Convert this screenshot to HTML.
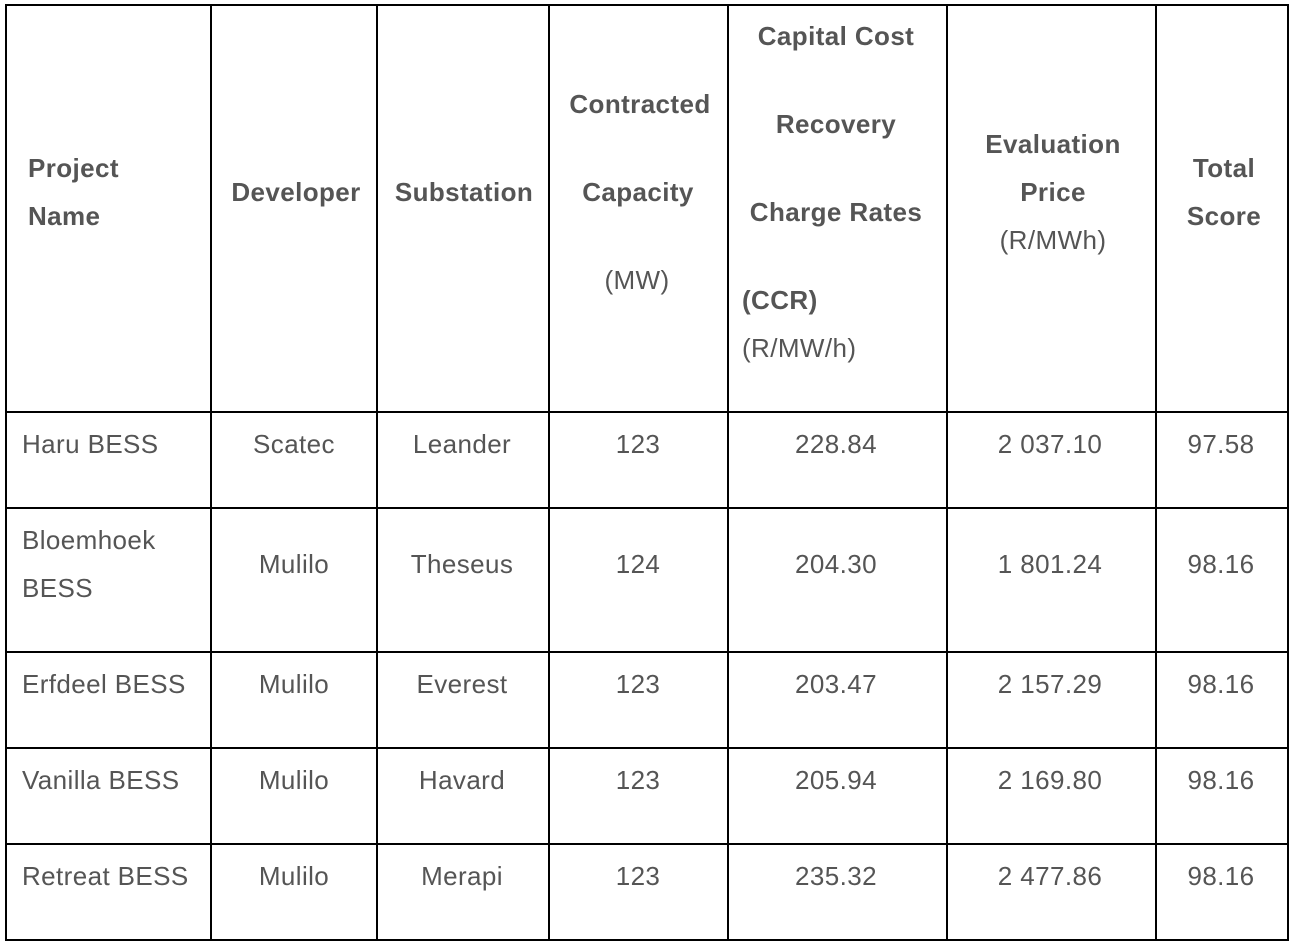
<!DOCTYPE html>
<html><head><meta charset="utf-8"><style>
body{margin:0;width:1294px;height:948px;background:#fff;position:relative;overflow:hidden;font-family:"Liberation Sans",sans-serif;color:#555;}
.v{position:absolute;top:4px;width:2px;height:937px;background:#000}
.h{position:absolute;left:5px;height:2px;width:1284px;background:#000}
.t{position:absolute;font-size:26px;line-height:30px;white-space:nowrap;letter-spacing:0.4px}
.b{font-weight:bold}
.c{transform:translateX(-50%)}
</style></head><body>
<div>
<div class="v" style="left:5px"></div>
<div class="v" style="left:210px"></div>
<div class="v" style="left:376px"></div>
<div class="v" style="left:548px"></div>
<div class="v" style="left:727px"></div>
<div class="v" style="left:946px"></div>
<div class="v" style="left:1155px"></div>
<div class="v" style="left:1287px"></div>
<div class="h" style="top:4px"></div>
<div class="h" style="top:411px"></div>
<div class="h" style="top:507px"></div>
<div class="h" style="top:651px"></div>
<div class="h" style="top:747px"></div>
<div class="h" style="top:843px"></div>
<div class="h" style="top:939px"></div>
</div>
<div>
<div class="t b" style="left:28px;top:153px">Project</div>
<div class="t b" style="left:28px;top:201px">Name</div>
<div class="t b c" style="left:296px;top:177px">Developer</div>
<div class="t b c" style="left:464px;top:177px">Substation</div>
<div class="t b c" style="left:640px;top:89px">Contracted</div>
<div class="t b c" style="left:638px;top:177px">Capacity</div>
<div class="t c" style="left:637px;top:265px">(MW)</div>
<div class="t b c" style="left:836px;top:21px">Capital Cost</div>
<div class="t b c" style="left:836px;top:109px">Recovery</div>
<div class="t b c" style="left:836px;top:197px">Charge Rates</div>
<div class="t b" style="left:742px;top:285px">(CCR)</div>
<div class="t" style="left:742px;top:333px">(R/MW/h)</div>
<div class="t b c" style="left:1053px;top:129px">Evaluation</div>
<div class="t b c" style="left:1053px;top:177px">Price</div>
<div class="t c" style="left:1053px;top:225px">(R/MWh)</div>
<div class="t b c" style="left:1224px;top:153px">Total</div>
<div class="t b c" style="left:1224px;top:201px">Score</div>
</div>
<div>
<div class="t" style="left:22px;top:429px">Haru BESS</div>
<div class="t c" style="left:294px;top:429px">Scatec</div>
<div class="t c" style="left:462px;top:429px">Leander</div>
<div class="t c" style="left:638px;top:429px">123</div>
<div class="t c" style="left:836px;top:429px">228.84</div>
<div class="t c" style="left:1050px;top:429px">2 037.10</div>
<div class="t c" style="left:1221px;top:429px">97.58</div>
</div>
<div>
<div class="t" style="left:22px;top:525px">Bloemhoek</div>
<div class="t" style="left:22px;top:573px">BESS</div>
<div class="t c" style="left:294px;top:549px">Mulilo</div>
<div class="t c" style="left:462px;top:549px">Theseus</div>
<div class="t c" style="left:638px;top:549px">124</div>
<div class="t c" style="left:836px;top:549px">204.30</div>
<div class="t c" style="left:1050px;top:549px">1 801.24</div>
<div class="t c" style="left:1221px;top:549px">98.16</div>
</div>
<div>
<div class="t" style="left:22px;top:669px">Erfdeel BESS</div>
<div class="t c" style="left:294px;top:669px">Mulilo</div>
<div class="t c" style="left:462px;top:669px">Everest</div>
<div class="t c" style="left:638px;top:669px">123</div>
<div class="t c" style="left:836px;top:669px">203.47</div>
<div class="t c" style="left:1050px;top:669px">2 157.29</div>
<div class="t c" style="left:1221px;top:669px">98.16</div>
</div>
<div>
<div class="t" style="left:22px;top:765px">Vanilla BESS</div>
<div class="t c" style="left:294px;top:765px">Mulilo</div>
<div class="t c" style="left:462px;top:765px">Havard</div>
<div class="t c" style="left:638px;top:765px">123</div>
<div class="t c" style="left:836px;top:765px">205.94</div>
<div class="t c" style="left:1050px;top:765px">2 169.80</div>
<div class="t c" style="left:1221px;top:765px">98.16</div>
</div>
<div>
<div class="t" style="left:22px;top:861px">Retreat BESS</div>
<div class="t c" style="left:294px;top:861px">Mulilo</div>
<div class="t c" style="left:462px;top:861px">Merapi</div>
<div class="t c" style="left:638px;top:861px">123</div>
<div class="t c" style="left:836px;top:861px">235.32</div>
<div class="t c" style="left:1050px;top:861px">2 477.86</div>
<div class="t c" style="left:1221px;top:861px">98.16</div>
</div>
</body></html>
